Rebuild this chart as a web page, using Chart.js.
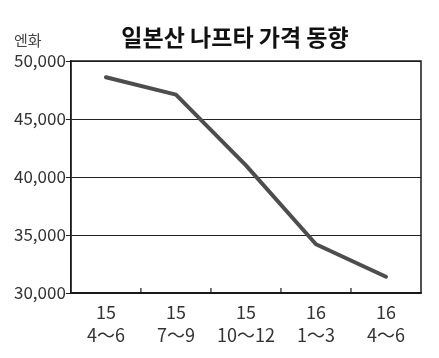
<!DOCTYPE html>
<html><head><meta charset="utf-8">
<script src="https://cdn.jsdelivr.net/npm/chart.js@4"></script>
<style>html,body{margin:0;padding:0;background:#fff}#wrap{width:439px;height:358px}</style>
</head><body><div id="wrap"><canvas id="c"></canvas></div>
<script>
const titleText = '일본산 나프타 가격 동향';
const unitText = '엔화';
const yearLabels = ['15', '15', '15', '16', '16'];
const monthLabels = ['4～6', '7～9', '10～12', '1～3', '4～6'];
const prices = [48600, 47100, 41000, 34200, 31400];
const yMin = 30000, yMax = 50000, yStep = 5000;

const FONT = '"Noto Sans CJK KR", "Noto Sans", sans-serif';

const decor = {
  id: 'decor',
  afterDraw(chart) {
    const ctx = chart.ctx, a = chart.chartArea, xs = chart.scales.x;
    ctx.save();
    ctx.strokeStyle = '#1a1a1a';
    ctx.lineWidth = 1.5;
    ctx.strokeRect(a.left, a.top, a.right - a.left, a.bottom - a.top);
    ctx.lineWidth = 1.2;
    for (let i = 0; i < yearLabels.length - 1; i++) {
      const x = (xs.getPixelForValue(i) + xs.getPixelForValue(i + 1)) / 2;
      ctx.beginPath(); ctx.moveTo(x, a.bottom); ctx.lineTo(x, a.bottom - 5); ctx.stroke();
    }
    ctx.fillStyle = '#111';
    ctx.font = 'bold 23px ' + FONT;
    ctx.textAlign = 'center'; ctx.textBaseline = 'alphabetic';
    ctx.fillText(titleText, 235, 46);
    ctx.fillStyle = '#444';
    ctx.font = '15px ' + FONT;
    ctx.textAlign = 'left';
    ctx.fillText(unitText, 14, 46);
    ctx.restore();
  }
};

new Chart(document.getElementById('c'), {
  type: 'line',
  data: {
    labels: yearLabels.map((y, i) => [y, monthLabels[i]]),
    datasets: [{
      data: prices,
      borderColor: '#4d4d4d',
      borderWidth: 4,
      pointRadius: 0,
      tension: 0,
      borderCapStyle: 'round',
      borderJoinStyle: 'round'
    }]
  },
  options: {
    responsive: true, maintainAspectRatio: false, animation: false,
    layout: { padding: { top: 61, right: 18, bottom: 12, left: 14 } },
    plugins: { legend: { display: false }, title: { display: false }, tooltip: { enabled: false } },
    scales: {
      x: {
        offset: true,
        grid: { display: false },
        border: { display: true, color: '#1a1a1a', width: 1.5 },
        ticks: { color: '#333', font: { family: FONT, size: 18, lineHeight: 1.25 }, padding: 0, maxRotation: 0, autoSkip: false }
      },
      y: {
        min: yMin, max: yMax,
        grid: { color: '#222', lineWidth: 1, tickLength: 5 },
        border: { display: true, color: '#1a1a1a', width: 1.5 },
        ticks: {
          stepSize: yStep, color: '#333', padding: 0,
          font: { family: FONT, size: 17 },
          callback: v => v.toLocaleString('en-US')
        }
      }
    }
  },
  plugins: [decor]
});
</script></body></html>
